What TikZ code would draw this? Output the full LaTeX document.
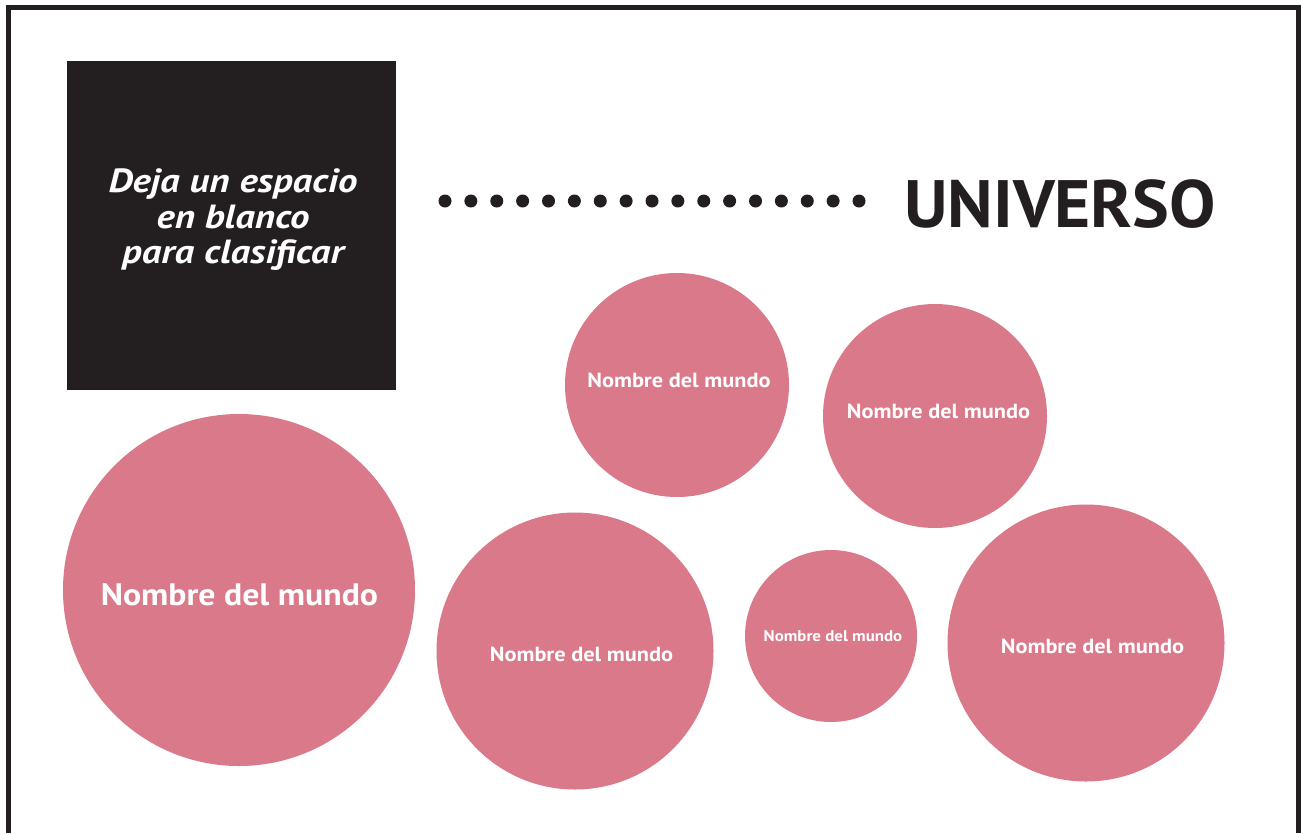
\documentclass[tikz,border=0pt]{standalone}
\usepackage{fontspec}
\setmainfont{PT Sans}
\newfontfamily\widefont[FakeStretch=1.09]{PT Sans}
\newfontfamily\boxfont[FakeStretch=1.16]{PT Sans}
\newfontfamily\titlefont[FakeStretch=1.035]{PT Sans}
\definecolor{ink}{RGB}{35,31,32}
\definecolor{rosa}{RGB}{218,121,137}
\begin{document}
\begin{tikzpicture}[x=1pt,y=-1pt,
  mundo/.style={circle,fill=rosa,draw=none,inner sep=0pt},
  nombre/.style={text=white,inner sep=0pt},
  punto/.style={circle,fill=ink,inner sep=0pt,minimum size=13pt}]
\useasboundingbox (0,0) rectangle (1301,833);
\fill[white] (0,0) rectangle (1301,833);
% frame
\draw[ink,line width=5pt] (8.5,833) -- (8.5,7.5) -- (1298.5,7.5) -- (1298.5,833);
% black box
\node[fill=ink,minimum width=329pt,minimum height=329pt,inner sep=0pt,anchor=north west] (box) at (67,61) {};
\node[text=white,align=center,font=\boxfont\fontsize{33.5}{35.5}\selectfont\bfseries\itshape] (boxtext) at (233,220) {Deja un espacio\\en blanco\\para clasificar};
% dots
\foreach \i in {0,...,16} {
  \node[punto] (d\i) at ({445+\i*25.875},201) {};
}
\node[anchor=west,text=ink,font=\titlefont\fontsize{67}{70}\selectfont\bfseries,inner sep=0pt] (univ) at (904,204) {UNIVERSO};
% circles
\node[mundo,minimum size=352pt] (c1) at (239,590) {};
\node[mundo,minimum size=224pt] (c2) at (677,385) {};
\node[mundo,minimum size=224pt] (c3) at (935,416) {};
\node[mundo,minimum size=277pt] (c4) at (575,651) {};
\node[mundo,minimum size=172pt] (c5) at (831,636) {};
\node[mundo,minimum size=277pt] (c6) at (1086,643) {};
% names
\node[nombre,font=\widefont\fontsize{31}{34}\selectfont\bfseries] (t1) at (239.5,595) {Nombre del mundo};
\node[nombre,font=\widefont\fontsize{20.5}{24}\selectfont\bfseries] (t2) at (679,380) {Nombre del mundo};
\node[nombre,font=\widefont\fontsize{20.5}{24}\selectfont\bfseries] (t3) at (938.5,411) {Nombre del mundo};
\node[nombre,font=\widefont\fontsize{20.5}{24}\selectfont\bfseries] (t4) at (581.5,654) {Nombre del mundo};
\node[nombre,font=\widefont\fontsize{15.5}{18}\selectfont\bfseries] (t5) at (833,636) {Nombre del mundo};
\node[nombre,font=\widefont\fontsize{20.5}{24}\selectfont\bfseries] (t6) at (1092.5,646) {Nombre del mundo};
\end{tikzpicture}
\end{document}
